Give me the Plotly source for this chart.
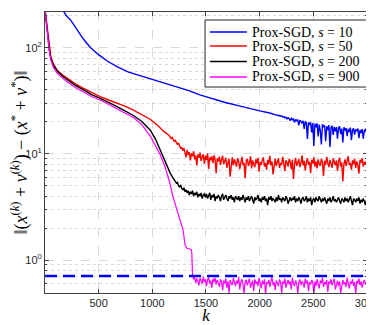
import math
import plotly.graph_objects as go

# ---------------- data ----------------
k_min, k_max = 1, 3000
ref_level = 0.71
noisy_step = 10

# smooth (early) parts: (k, value) pairs
blue_k = [150, 176, 200, 240, 300, 360, 426, 500, 580, 676, 780, 880, 981, 1100, 1231,
          1340, 1444, 1560, 1680, 1800, 1900, 2000, 2095]
blue_v = [240, 217, 200, 182, 148, 120, 100, 86, 75, 66, 59, 55, 51.5, 47, 43,
          39.5, 36, 33, 30.5, 28.5, 26.8, 25.4, 24.3]
blue_noisy_start = 2105
blue_noisy = [24.1, 23.8, 24.0, 23.5, 23.6, 23.2, 23.3, 22.9, 23.0, 22.6,
              22.8, 22.3, 22.5, 21.9, 22.2, 21.4, 21.9, 21.5, 20.6, 21.6,
              21.0, 21.4, 19.8, 21.1, 20.5, 20.9, 18.6, 20.8, 20.2, 19.4,
              20.5, 17.2, 20.2, 19.6, 13.8, 19.9, 18.7, 19.8, 15.9, 19.5,
              11.9, 19.3, 17.8, 19.4, 14.6, 18.9, 16.5, 12.3, 19.0, 17.9,
              18.6, 13.2, 18.2, 16.8, 18.7, 11.6, 17.7, 18.4, 15.1, 18.0,
              16.3, 17.9, 13.9, 17.6, 18.1, 15.4, 17.3, 12.8, 17.8, 16.6,
              17.5, 14.7, 17.2, 16.1, 17.7, 13.5, 16.9, 17.4, 15.2, 17.0,
              16.4, 17.3, 14.1, 16.8, 15.7, 17.1, 13.9, 16.6, 17.0, 15.9]

red_k = [1, 8, 15, 25, 40, 55, 80, 117, 160, 210, 280, 360, 440, 520, 600, 676, 750,
         825, 900, 980, 1050, 1110, 1155]
red_v = [230, 200, 175, 130, 100, 82, 70, 61, 56, 51.5, 46, 41.5, 37.5, 34.4, 32, 30, 28,
         25.8, 23.5, 21.2, 18.5, 16.2, 15.0]
red_noisy_start = 1165
red_noisy = [14.6, 14.0, 14.3, 13.5, 13.1, 13.4, 12.6, 12.2, 12.7, 11.8,
             11.2, 11.6, 10.7, 11.3, 10.2, 9.3, 10.9, 9.8, 10.4, 8.7,
             10.1, 9.5, 10.6, 8.9, 9.7, 7.8, 9.9, 9.2, 10.3, 8.6,
             9.4, 9.9, 8.1, 9.6, 8.8, 10.1, 7.2, 9.3, 8.7, 9.5,
             8.2, 9.7, 8.9, 6.6, 9.1, 8.5, 9.4, 7.9, 8.8, 9.6,
             8.0, 8.7, 9.2, 7.4, 8.6, 9.0, 6.1, 8.4, 9.3, 7.8,
             8.9, 8.3, 7.6, 9.1, 8.5, 7.2, 8.8, 9.4, 7.9, 8.2,
             5.9, 8.6, 9.0, 7.7, 8.3, 9.5, 7.3, 8.7, 8.0, 7.5,
             8.9, 8.1, 9.2, 6.8, 8.4, 7.9, 8.7, 9.3, 7.6, 8.2,
             7.1, 8.8, 8.0, 9.6, 7.8, 8.5, 6.4, 8.3, 9.0, 7.7,
             8.6, 9.1, 7.4, 8.2, 7.9, 9.4, 8.1, 6.9, 8.7, 8.3,
             7.6, 9.0, 8.4, 7.2, 8.8, 5.8, 8.0, 9.2, 7.7, 8.5,
             8.9, 7.5, 8.2, 9.7, 7.8, 8.6, 7.0, 8.3, 9.1, 7.9,
             8.4, 6.6, 8.8, 8.1, 9.3, 7.6, 8.5, 7.3, 8.9, 8.0,
             7.7, 9.0, 8.3, 6.2, 8.6, 7.9, 9.4, 8.2, 7.5, 8.8,
             8.1, 7.4, 9.1, 8.4, 7.8, 8.7, 6.9, 8.5, 9.2, 7.6,
             8.3, 5.5, 8.0, 8.9, 7.7, 8.6, 9.5, 7.9, 8.2, 7.1,
             8.7, 8.0, 9.0, 7.4, 8.5, 7.8, 6.5, 8.8, 8.3, 9.1,
             7.6, 8.4, 7.9, 8.6]

black_k = [1, 8, 15, 25, 40, 55, 80, 117, 160, 210, 280, 360, 440, 520, 600, 676, 750,
           825, 900, 980, 1030, 1075, 1120, 1167, 1195]
black_v = [230, 195, 170, 127, 98, 80, 68, 60, 54.5, 50, 44.5, 40, 36, 33.2, 30.5, 27.7, 25.3,
           23, 20.3, 16.8, 13.8, 10.8, 8.4, 6.6, 5.9]
black_noisy_start = 1205
black_noisy = [5.7, 5.5, 5.3, 5.4, 5.0, 4.9, 5.1, 4.7, 4.6, 4.8,
               4.4, 4.6, 4.3, 4.5, 4.1, 4.4, 4.2, 4.5, 4.0, 4.3,
               4.1, 4.4, 3.9, 4.2, 4.0, 4.3, 3.8, 4.1, 4.2, 3.9,
               4.2, 3.8, 4.0, 4.3, 3.7, 4.1, 3.9, 4.2, 3.6, 4.0,
               3.8, 4.1, 3.9, 3.6, 4.0, 4.2, 3.7, 3.9, 4.1, 3.8,
               3.6, 4.0, 3.8, 4.1, 3.7, 3.9, 3.5, 4.0, 3.8, 3.7,
               4.0, 3.6, 3.9, 3.7, 4.1, 3.8, 3.5, 3.9, 3.7, 4.0,
               3.6, 3.8, 4.0, 3.7, 3.4, 3.9, 3.7, 3.8, 4.1, 3.6,
               3.8, 3.5, 3.9, 3.7, 4.0, 3.6, 3.8, 3.3, 3.9, 3.7,
               4.0, 3.6, 3.8, 3.7, 3.5, 3.9, 3.6, 4.1, 3.7, 3.8,
               3.5, 3.9, 3.7, 3.6, 4.0, 3.8, 3.4, 3.7, 3.9, 3.6,
               3.8, 3.7, 4.0, 3.5, 3.8, 3.6, 3.9, 3.7, 3.4, 3.8,
               3.9, 3.6, 3.7, 4.0, 3.5, 3.8, 3.6, 3.9, 3.3, 3.7,
               3.8, 3.5, 3.9, 3.7, 3.6, 4.0, 3.7, 3.5, 3.8, 3.6,
               3.9, 3.7, 3.4, 3.8, 3.6, 3.9, 3.5, 3.7, 4.0, 3.6,
               3.7, 3.5, 3.8, 3.9, 3.6, 3.4, 3.8, 3.7, 3.5, 3.9,
               3.6, 3.8, 3.5, 3.7, 4.0, 3.6, 3.3, 3.8, 3.7, 3.5,
               3.8, 3.6, 3.9, 3.4, 3.7, 3.5, 3.8, 3.6, 3.3, 3.7]

mag_k = [1, 8, 15, 25, 40, 55, 80, 117, 160, 210, 280, 360, 440, 520, 600, 676, 750,
         825, 900, 980, 1030, 1075, 1120, 1160, 1195, 1230, 1259, 1287, 1306, 1320,
         1340, 1360, 1368]
mag_v = [230, 190, 165, 123, 95, 77, 65, 57, 52, 47.5, 42.5, 38, 34.5, 32, 29.2, 26.5, 24.2,
         22, 19, 14.8, 12.0, 9.8, 7.5, 5.5, 3.9, 3.0, 2.45, 1.92, 1.38, 1.3,
         1.28, 1.26, 1.2]
mag_noisy_start = 1375
mag_noisy = [0.72, 0.66, 0.69, 0.61, 0.67, 0.63, 0.58, 0.68, 0.64, 0.60,
             0.70, 0.62, 0.66, 0.57, 0.65, 0.69, 0.60, 0.64, 0.55, 0.67,
             0.62, 0.68, 0.59, 0.65, 0.61, 0.56, 0.66, 0.63, 0.52, 0.64,
             0.60, 0.67, 0.55, 0.63, 0.49, 0.65, 0.61, 0.58, 0.68, 0.62,
             0.57, 0.64, 0.60, 0.69, 0.53, 0.62, 0.66, 0.59, 0.48, 0.63,
             0.65, 0.58, 0.62, 0.67, 0.55, 0.61, 0.64, 0.51, 0.66, 0.60,
             0.63, 0.57, 0.68, 0.61, 0.54, 0.64, 0.59, 0.66, 0.47, 0.62,
             0.60, 0.65, 0.56, 0.63, 0.69, 0.58, 0.62, 0.52, 0.64, 0.61,
             0.57, 0.66, 0.62, 0.49, 0.63, 0.60, 0.67, 0.55, 0.61, 0.65,
             0.59, 0.63, 0.53, 0.68, 0.61, 0.57, 0.64, 0.60, 0.48, 0.62,
             0.66, 0.58, 0.63, 0.61, 0.55, 0.67, 0.60, 0.64, 0.51, 0.62,
             0.59, 0.65, 0.62, 0.47, 0.63, 0.57, 0.66, 0.60, 0.54, 0.64,
             0.61, 0.68, 0.56, 0.62, 0.59, 0.65, 0.50, 0.63, 0.60, 0.66,
             0.58, 0.62, 0.67, 0.53, 0.61, 0.64, 0.57, 0.63, 0.49, 0.60,
             0.65, 0.59, 0.62, 0.56, 0.68, 0.61, 0.54, 0.63, 0.60, 0.66,
             0.57, 0.62, 0.48, 0.64, 0.60, 0.67, 0.58, 0.63, 0.55, 0.61,
             0.65, 0.59, 0.62]

x_ticks = [500, 1000, 1500, 2000, 2500, 3000]
y_ticks = [1, 10, 100]
y_ticktext = ["10<sup>0</sup>", "10<sup>1</sup>", "10<sup>2</sup>"]
y_minor = [0.5, 0.6, 0.7, 0.8, 0.9, 2, 3, 4, 5, 6, 7, 8, 9,
           20, 30, 40, 50, 60, 70, 80, 90, 200]
y_range = [0.49, 217]

names = ["Prox-SGD, <i>s</i> = 10", "Prox-SGD, <i>s</i> = 50",
         "Prox-SGD, <i>s</i> = 200", "Prox-SGD, <i>s</i> = 900"]
colors = ["#0000ff", "#ff0000", "#000000", "#ff00ff"]


def join(k_s, v_s, noisy, start):
    ks = list(k_s) + [start + i * noisy_step for i in range(len(noisy))]
    vs = list(v_s) + list(noisy)
    return ks, vs


series = [
    join(blue_k, blue_v, blue_noisy, blue_noisy_start),
    join(red_k, red_v, red_noisy, red_noisy_start),
    join(black_k, black_v, black_noisy, black_noisy_start),
    join(mag_k, mag_v, mag_noisy, mag_noisy_start),
]

fig = go.Figure()
widths = [1.4, 1.4, 1.4, 1.2]
for (ks, vs), nm, c, w in zip(series, names, colors, widths):
    fig.add_trace(go.Scatter(x=ks, y=vs, mode="lines", name=nm, showlegend=False,
                             line=dict(color=c, width=w)))

fig.add_trace(go.Scatter(x=[k_min, k_max], y=[ref_level, ref_level], mode="lines",
                         showlegend=False,
                         line=dict(color="#0000ff", width=2.5, dash="12px,6px")))

axis_color = "#404040"
grid_color = "#d9d9d9"
tick_font = dict(family="Liberation Sans", size=11, color="#262626")
serif = "Liberation Serif, Times New Roman, serif"

# ---- compact legend box (MATLAB-style), drawn in paper coordinates ----
leg_x0, leg_x1, leg_y0, leg_y1 = 0.497, 0.999, 0.733, 0.9715
leg_line_x0, leg_line_x1, leg_text_x = 0.512, 0.627, 0.638
leg_rows = [0.9288, 0.879, 0.8238, 0.7687]
fig.add_shape(type="rect", xref="paper", yref="paper",
              x0=leg_x0, x1=leg_x1, y0=leg_y0, y1=leg_y1,
              fillcolor="white", line=dict(color="#262626", width=1), layer="above")
for nm, c, w, yr in zip(names, colors, widths, leg_rows):
    fig.add_shape(type="line", xref="paper", yref="paper",
                  x0=leg_line_x0, x1=leg_line_x1, y0=yr, y1=yr,
                  line=dict(color=c, width=w + 0.2), layer="above")
    fig.add_annotation(xref="paper", yref="paper", x=leg_text_x, y=yr,
                       xanchor="left", yanchor="middle", showarrow=False,
                       text=nm, font=dict(family=serif, size=14, color="#000000"))

# the page body adds an 8px margin, so the figure is 8px smaller than the window
fig.update_layout(
    width=366, height=317,
    margin=dict(l=37, r=7, t=4, b=32),
    paper_bgcolor="white", plot_bgcolor="white",
    showlegend=False,
    xaxis=dict(range=[k_min, k_max], tickmode="array", tickvals=x_ticks,
               ticks="inside", ticklen=4, tickcolor=axis_color,
               showline=True, linecolor=axis_color, linewidth=1, mirror="ticks",
               showgrid=True, gridcolor=grid_color, griddash="dash", gridwidth=1,
               zeroline=False, tickfont=tick_font, automargin=False,
               ticklabeloverflow="allow",
               title=dict(text="<i>k</i>", font=dict(family=serif, size=17,
                                                     color="#000000"), standoff=4)),
    yaxis=dict(type="log", range=[math.log10(y_range[0]), math.log10(y_range[1])],
               tickmode="array", tickvals=y_ticks, ticktext=y_ticktext,
               ticks="inside", ticklen=4, tickcolor=axis_color,
               showline=True, linecolor=axis_color, linewidth=1, mirror="ticks",
               showgrid=True, gridcolor=grid_color, griddash="dash", gridwidth=1,
               zeroline=False, tickfont=tick_font, automargin=False,
               minor=dict(tickmode="array", tickvals=y_minor, ticks="inside", ticklen=2,
                          tickcolor=axis_color, showgrid=True, gridcolor=grid_color,
                          griddash="dot", gridwidth=1),
               title=dict(text="‖(<i>x</i><sup>(<i>k</i>)</sup> + <i>v</i><sup>(<i>k</i>)</sup>) − (<i>x</i><sup>*</sup> + <i>v</i><sup>*</sup>)‖",
                          font=dict(family=serif, size=18, color="#000000"),
                          standoff=2)),
)

fig.write_html("out.html")
